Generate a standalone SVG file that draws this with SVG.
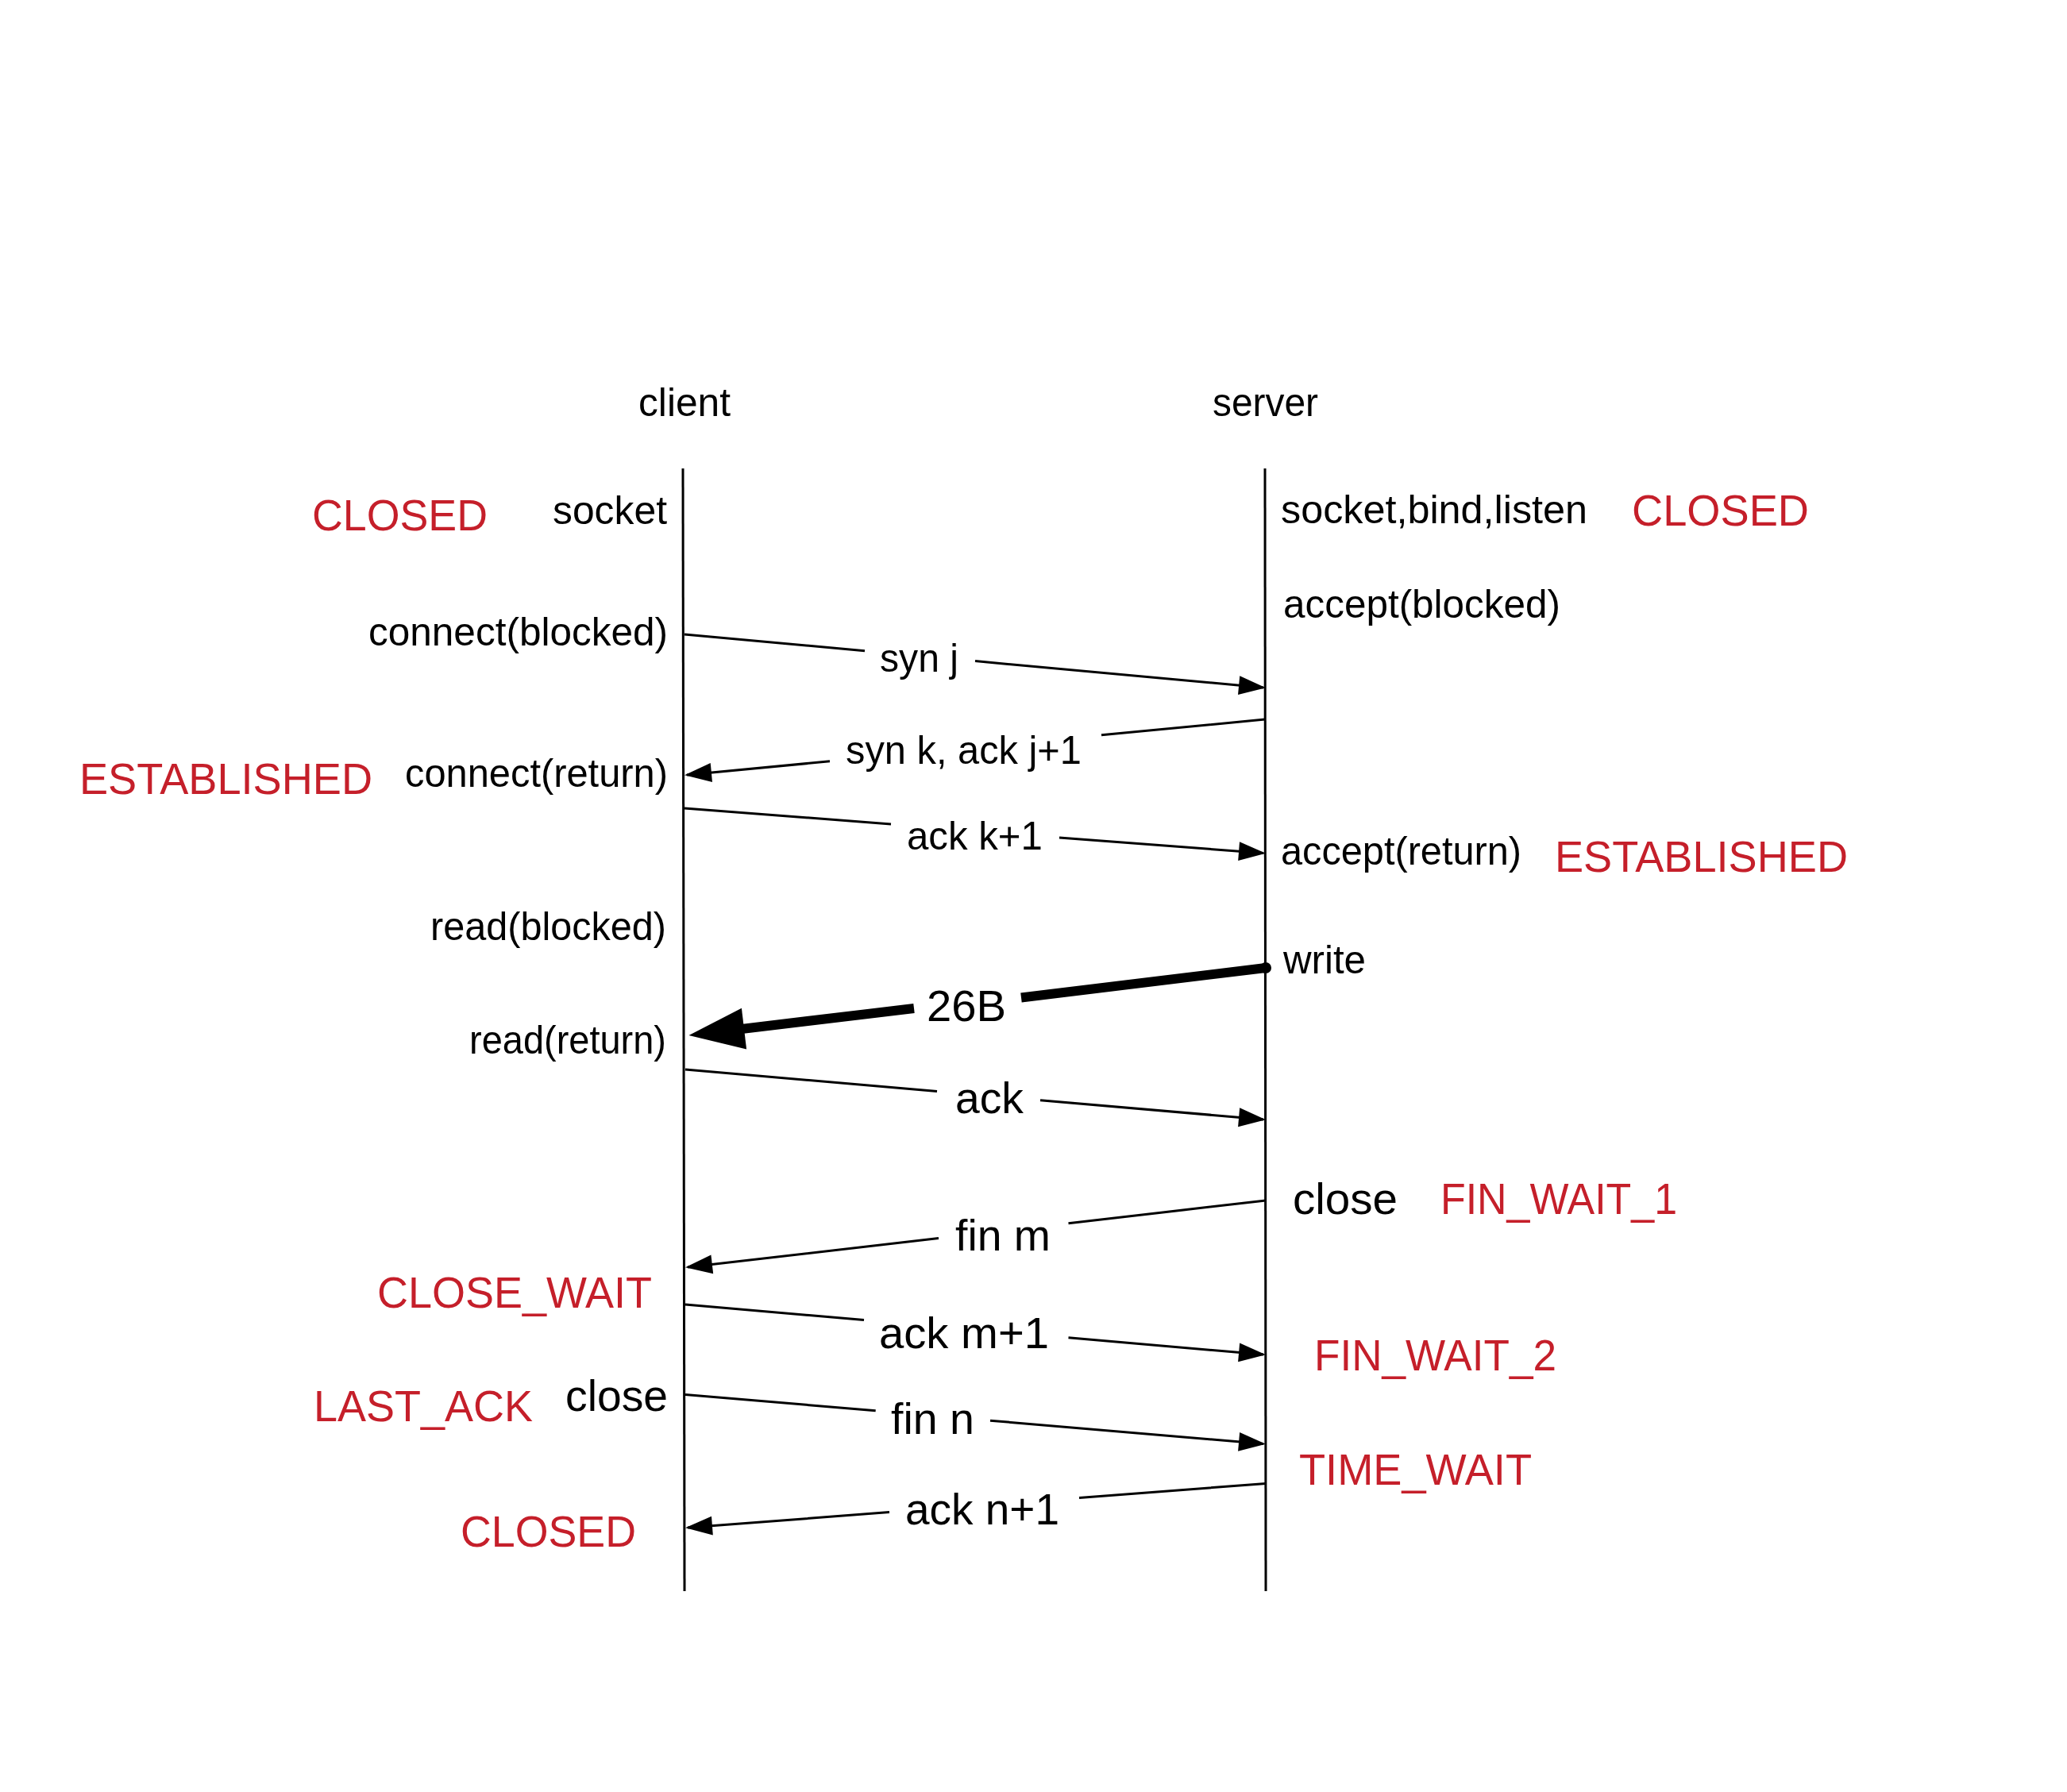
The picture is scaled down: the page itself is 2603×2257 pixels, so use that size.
<svg xmlns="http://www.w3.org/2000/svg" width="2603" height="2257" viewBox="0 0 2603 2257">
<style>
text{font-family:"Liberation Sans",Arial,Helvetica,sans-serif}
.s{font-size:50px;fill:#000}
.l{font-size:56px;fill:#000}
.r{font-size:56px;fill:#c51f2a}
.life{stroke:#000;stroke-width:3;fill:none}
.msg{stroke:#000;stroke-width:3;fill:none;marker-end:url(#ah)}
.bigseg{stroke:#000;stroke-width:12;fill:none}
.big{stroke:#000;stroke-width:12;fill:none;marker-end:url(#bh)}
</style>
<defs>
<marker id="ah" markerUnits="userSpaceOnUse" markerWidth="36" markerHeight="26" refX="31" refY="12" orient="auto" overflow="visible">
<path d="M0,0 L34,12 L0,24 z" fill="#000"/>
</marker>
<marker id="bh" markerUnits="userSpaceOnUse" markerWidth="72" markerHeight="54" refX="1" refY="26" orient="auto" overflow="visible">
<path d="M0,0 L70,26 L0,52 z" fill="#000"/>
</marker>
</defs>
<rect width="2603" height="2257" fill="#fff"/>

<g id="client">
<text class="s" x="804" y="524" textLength="116" lengthAdjust="spacingAndGlyphs">client</text>
<path class="life" d="M860,590 L862,2004"/>
</g>
<g id="server">
<text class="s" x="1527" y="524" textLength="133" lengthAdjust="spacingAndGlyphs">server</text>
<path class="life" d="M1593,590 L1594,2004"/>
</g>

<g id="client-calls">
<text class="s" x="696" y="660" textLength="144" lengthAdjust="spacingAndGlyphs">socket</text>
<text class="s" x="464" y="813" textLength="377" lengthAdjust="spacingAndGlyphs">connect(blocked)</text>
<text class="s" x="510" y="991" textLength="331" lengthAdjust="spacingAndGlyphs">connect(return)</text>
<text class="s" x="542" y="1184" textLength="297" lengthAdjust="spacingAndGlyphs">read(blocked)</text>
<text class="s" x="591" y="1327" textLength="248" lengthAdjust="spacingAndGlyphs">read(return)</text>
<text class="l" x="712" y="1777" textLength="129" lengthAdjust="spacingAndGlyphs">close</text>
</g>

<g id="server-calls">
<text class="s" x="1613" y="659" textLength="386" lengthAdjust="spacingAndGlyphs">socket,bind,listen</text>
<text class="s" x="1616" y="778" textLength="349" lengthAdjust="spacingAndGlyphs">accept(blocked)</text>
<text class="s" x="1613" y="1089" textLength="303" lengthAdjust="spacingAndGlyphs">accept(return)</text>
<text class="s" x="1616" y="1226" textLength="104" lengthAdjust="spacingAndGlyphs">write</text>
<text class="l" x="1628" y="1529" textLength="132" lengthAdjust="spacingAndGlyphs">close</text>
</g>

<g id="client-states">
<text class="r" x="393" y="668" textLength="221" lengthAdjust="spacingAndGlyphs">CLOSED</text>
<text class="r" x="100" y="1000" textLength="369" lengthAdjust="spacingAndGlyphs">ESTABLISHED</text>
<text class="r" x="475" y="1647" textLength="346" lengthAdjust="spacingAndGlyphs">CLOSE_WAIT</text>
<text class="r" x="395" y="1790" textLength="276" lengthAdjust="spacingAndGlyphs">LAST_ACK</text>
<text class="r" x="580" y="1948" textLength="221" lengthAdjust="spacingAndGlyphs">CLOSED</text>
</g>

<g id="server-states">
<text class="r" x="2055" y="662" textLength="223" lengthAdjust="spacingAndGlyphs">CLOSED</text>
<text class="r" x="1958" y="1098" textLength="369" lengthAdjust="spacingAndGlyphs">ESTABLISHED</text>
<text class="r" x="1814" y="1529" textLength="298" lengthAdjust="spacingAndGlyphs">FIN_WAIT_1</text>
<text class="r" x="1655" y="1726" textLength="305" lengthAdjust="spacingAndGlyphs">FIN_WAIT_2</text>
<text class="r" x="1636" y="1870" textLength="293" lengthAdjust="spacingAndGlyphs">TIME_WAIT</text>
</g>

<g id="connectors">
<path class="msg" d="M862,799 L1089,819.8 M1228,832.6 L1591,866"/>
<path class="msg" d="M1593,906 L1387,925.8 M1045,958.8 L865,976"/>
<path class="msg" d="M862,1018 L1122,1038 M1334,1055 L1591,1074.5"/>
<path class="bigseg" d="M1594,1219 L1286,1256.5"/>
<path class="big" d="M1151,1270 L936,1295.7"/>
<circle cx="1594" cy="1219" r="7" fill="#000"/>
<path class="msg" d="M863,1347 L1180,1374.4 M1310,1385.7 L1591,1410"/>
<path class="msg" d="M1594,1512 L1345.5,1540.7 M1182,1559.5 L866,1596"/>
<path class="msg" d="M863,1643 L1088,1662.5 M1345.5,1684.8 L1591,1706"/>
<path class="msg" d="M863,1756.4 L1102.7,1776.8 M1247,1789.2 L1591,1818.5"/>
<path class="msg" d="M1594,1868.5 L1359,1886.4 M1120,1904.6 L866,1924"/>
</g>

<g id="connector-labels">
<text class="s" x="1108" y="846" textLength="99" lengthAdjust="spacingAndGlyphs">syn j</text>
<text class="s" x="1065" y="962" textLength="297" lengthAdjust="spacingAndGlyphs">syn k, ack j+1</text>
<text class="s" x="1142" y="1070" textLength="171" lengthAdjust="spacingAndGlyphs">ack k+1</text>
<text class="l" x="1167" y="1286" textLength="100" lengthAdjust="spacingAndGlyphs">26B</text>
<text class="l" x="1203" y="1402" textLength="86" lengthAdjust="spacingAndGlyphs">ack</text>
<text class="l" x="1203" y="1575" textLength="120" lengthAdjust="spacingAndGlyphs">fin m</text>
<text class="l" x="1107" y="1698" textLength="214" lengthAdjust="spacingAndGlyphs">ack m+1</text>
<text class="l" x="1122" y="1806" textLength="105" lengthAdjust="spacingAndGlyphs">fin n</text>
<text class="l" x="1140" y="1920" textLength="194" lengthAdjust="spacingAndGlyphs">ack n+1</text>
</g>
</svg>
